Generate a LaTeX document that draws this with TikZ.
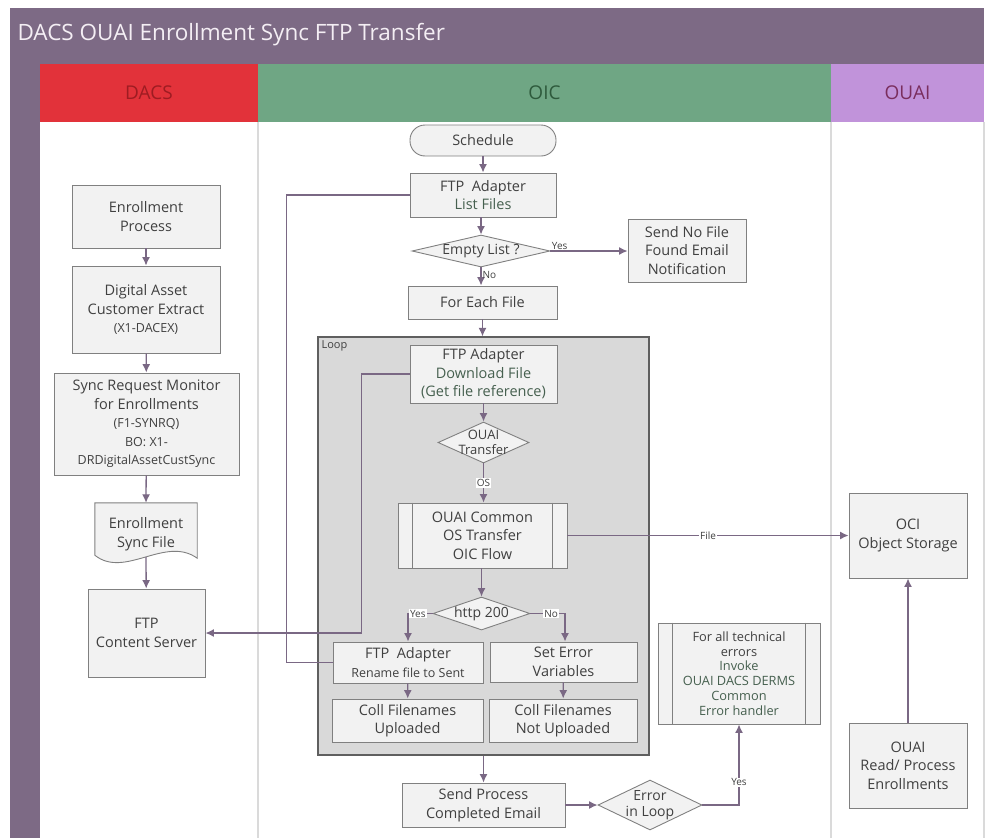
\documentclass[tikz,border=0pt]{standalone}
\usepackage{fontspec}
\setmainfont{Open Sans}
\usepackage{graphicx}
\usetikzlibrary{arrows,arrows.meta,shapes.geometric,positioning}
\definecolor{pool}{HTML}{7D6A85}
\definecolor{titletext}{HTML}{F4EEF4}
\definecolor{dacsred}{HTML}{E2323A}
\definecolor{dacstext}{HTML}{9E1C22}
\definecolor{oicgreen}{HTML}{6FA684}
\definecolor{oictext}{HTML}{2E5A3C}
\definecolor{ouaipurple}{HTML}{C193DA}
\definecolor{ouaitext}{HTML}{7A2E5E}
\definecolor{laneline}{HTML}{DADADA}
\definecolor{boxline}{HTML}{808080}
\definecolor{boxfill}{HTML}{F2F2F2}
\definecolor{boxtext}{HTML}{404040}
\definecolor{subtext}{HTML}{46604F}
\definecolor{loopfill}{HTML}{D9D9D9}
\definecolor{loopline}{HTML}{5F5F5F}
\definecolor{flowc}{HTML}{7A6884}
\newcommand\smalltxt{\fontsize{12.5}{15.5}\selectfont}
\tikzset{font=\fontsize{14.5}{18.5}\selectfont}
\tikzset{every node/.append style={transform shape=false}}
\tikzset{
  box/.style={draw=boxline, fill=boxfill, line width=.9pt, align=center, text=boxtext, inner sep=1pt},
  dec/.style={diamond, draw=boxline, fill=boxfill, line width=.9pt, inner sep=0pt},
  dectext/.style={align=center, text=boxtext, inner sep=0pt, font=\fontsize{14}{16}\selectfont},
  lanehead/.style={font=\fontsize{19}{22}\selectfont},
  flow/.style={draw=flowc, line width=1.3pt, -{Latex[length=8.5pt,width=8pt]}},
  plainflow/.style={draw=flowc, line width=1.3pt},
  lbl/.style={text=boxtext, inner sep=1pt, font=\fontsize{10}{12}\selectfont}
}

\begin{document}
\begin{tikzpicture}[x=1pt,y=-1pt]
\useasboundingbox (0,0) rectangle (988,838);
% pool, lanes
\fill[pool] (10,8) rectangle (984,64);
\fill[pool] (10,64) rectangle (40,838);
\fill[dacsred] (40,64) rectangle (258,122);
\fill[oicgreen] (258,64) rectangle (831,122);
\fill[ouaipurple] (831,64) rectangle (984,122);
\draw[laneline, line width=1.2pt] (258,122) -- (258,838) (831,122) -- (831,838) (984,122) -- (984,838);
\node[anchor=west, text=titletext, font=\fontsize{22.5}{26}\selectfont] (title) at (14,35) {DACS OUAI Enrollment Sync FTP Transfer};
\node[lanehead, text=dacstext] (hdacs) at (149,93) {DACS};
\node[lanehead, text=oictext] (hoic) at (544.5,93) {OIC};
\node[lanehead, text=ouaitext] (houai) at (907.5,93) {OUAI};

% DACS
\node[box, minimum width=148pt, minimum height=63pt] (enroll) at (146,216.5) {Enrollment\\Process};
\node[box, minimum width=148pt, minimum height=87pt] (extract) at (146,309.5) {Digital Asset\\Customer Extract\\{\smalltxt (X1-DACEX)}};
\node[box, minimum width=185pt, minimum height=102pt] (monitor) at (146.5,424) {Sync Request Monitor\\for Enrollments\\{\smalltxt (F1-SYNRQ)}\\{\smalltxt BO: X1-}\\{\smalltxt DRDigitalAssetCustSync}};
\node[minimum width=102pt, minimum height=54pt, inner sep=0pt] (syncfile) at (146,530) {};
\draw[boxline, fill=boxfill, line width=.9pt] (syncfile.north west) -- (syncfile.north east) -- ([yshift=-1pt]syncfile.south east)
  .. controls ([xshift=-32pt,yshift=22pt]syncfile.south east) and ([xshift=30pt,yshift=-22pt]syncfile.south west) .. ([yshift=2pt]syncfile.south west) -- cycle;
\node[align=center, text=boxtext] (syncfilet) at ([yshift=-4pt]syncfile.center) {Enrollment\\Sync File};
\node[box, minimum width=117pt, minimum height=88pt] (ftpsrv) at (146.5,633) {FTP\\Content Server};

\draw[flow] (enroll) -- (extract);
\draw[flow] (extract) -- (monitor);
\draw[flow] (monitor) -- (syncfile.north);
\draw[flow] (syncfile.south) -- (ftpsrv);

% OIC
\node[box, rounded corners=15pt, minimum width=146pt, minimum height=31pt] (sched) at (483,140.5) {Schedule};
\node[box, minimum width=146pt, minimum height=44pt] (listf) at (483,195) {FTP\ \ Adapter\\\textcolor{subtext}{List Files}};
\node[dec, minimum width=138pt, minimum height=32pt, label={[dectext]center:Empty List ?}] (empty) at (481,251) {};
\node[box, minimum width=118pt, minimum height=63pt] (nofile) at (687,250.5) {Send No File\\Found Email\\Notification};
\node[box, minimum width=149pt, minimum height=33pt] (foreach) at (482.5,302.5) {For Each File};

\node[draw=loopline, fill=loopfill, line width=1.2pt, minimum width=331pt, minimum height=418pt, inner sep=0pt] (loopbox) at (483.5,546) {};
\node[anchor=north west, text=boxtext, font=\fontsize{11}{13}\selectfont, inner sep=2pt] (looplbl) at ([xshift=2pt,yshift=-2pt]loopbox.north west) {Loop};

\node[box, minimum width=147pt, minimum height=58pt] (download) at (483.5,374) {FTP Adapter\\\textcolor{subtext}{Download File}\\\textcolor{subtext}{(Get file reference)}};
\node[dec, minimum width=91pt, minimum height=41pt, label={[dectext, font=\fontsize{13}{15}\selectfont]center:OUAI\\Transfer}] (ouaitr) at (483.5,442.5) {};
\node[box, minimum width=169pt, minimum height=65pt] (common) at (482.5,535.5) {OUAI Common\\OS Transfer\\OIC Flow};
\draw[boxline, line width=.9pt] ([xshift=15pt]common.north west) -- ([xshift=15pt]common.south west)
  ([xshift=-15pt]common.north east) -- ([xshift=-15pt]common.south east);
\node[dec, minimum width=97pt, minimum height=33pt, label={[dectext]center:http 200}] (http) at (481.5,613.5) {};
\node[box, minimum width=150pt, minimum height=41pt] (rename) at (408,662.5) {FTP\ \ Adapter\\{\smalltxt Rename file to Sent}};
\node[box, minimum width=147pt, minimum height=40pt] (seterr) at (563.5,662) {Set Error\\Variables};
\node[box, minimum width=151pt, minimum height=43pt] (upl) at (407.5,720.5) {Coll Filenames\\Uploaded};
\node[box, minimum width=148pt, minimum height=43pt] (notupl) at (563,720.5) {Coll Filenames\\Not Uploaded};

\node[box, minimum width=163pt, minimum height=44pt] (sendmail) at (483.5,805) {Send Process\\Completed Email};
\node[dec, minimum width=104pt, minimum height=50pt, label={[dectext]center:Error\\in Loop}] (errloop) at (650,805) {};
\node[box, minimum width=162pt, minimum height=101pt, font=\fontsize{12.8}{14.8}\selectfont] (errh) at (739,673.5) {For all technical\\errors\\\textcolor{subtext}{Invoke}\\\textcolor{subtext}{OUAI DACS DERMS}\\\textcolor{subtext}{Common}\\\textcolor{subtext}{Error handler}};
\draw[boxline, line width=.9pt] ([xshift=15pt]errh.north west) -- ([xshift=15pt]errh.south west)
  ([xshift=-15pt]errh.north east) -- ([xshift=-15pt]errh.south east);

% OUAI
\node[box, minimum width=118pt, minimum height=85pt] (oci) at (908,535.5) {OCI\\Object Storage};
\node[box, minimum width=118pt, minimum height=85pt] (readp) at (908,765.5) {OUAI\\Read/ Process\\Enrollments};

% connectors
\draw[flow] (sched) -- (listf);
\draw[flow] (listf.south -| empty.north) -- (empty.north);
\draw[flow] (empty.east) -- (empty.east -| nofile.west) node[lbl, above, pos=.12] {Yes};
\draw[flow] (empty.south) -- (empty.south |- foreach.north) node[lbl, right, pos=.4] {No};
\draw[flow] (foreach.south) -- (foreach.south |- loopbox.north);
\draw[flow] (download.south -| ouaitr.north) -- (ouaitr.north);
\draw[flow] (ouaitr.south) -- (ouaitr.south |- common.north) node[lbl, fill=white, pos=.5] {OS};
\draw[flow] (common.south -| http.north) -- (http.north);
\draw[flow] (http.west) -| (rename.north) node[lbl, fill=white, pos=.3] {Yes};
\draw[flow] (http.east) -| ([xshift=1.5pt]seterr.north) node[lbl, fill=white, pos=.3] {No};
\draw[flow] (rename) -- (upl);
\draw[flow] (seterr) -- (notupl);
\draw[flow] (common.east) -- (common.east -| oci.west) node[lbl, fill=white, pos=.5] {File};
\draw[flow] (sendmail.north |- loopbox.south) -- (sendmail.north);
\draw[flow] (sendmail.east) -- (errloop.west);
\draw[flow] (errloop.east) -| (errh.south) node[lbl, fill=white, pos=.64] {Yes};
\draw[flow] (readp) -- (oci);
\draw[plainflow] (listf.west) -- ++(-123,0) |- (rename.west);
\draw[flow] (download.west) -- ++(-48,0) |- (ftpsrv.east);
\end{tikzpicture}
\end{document}
